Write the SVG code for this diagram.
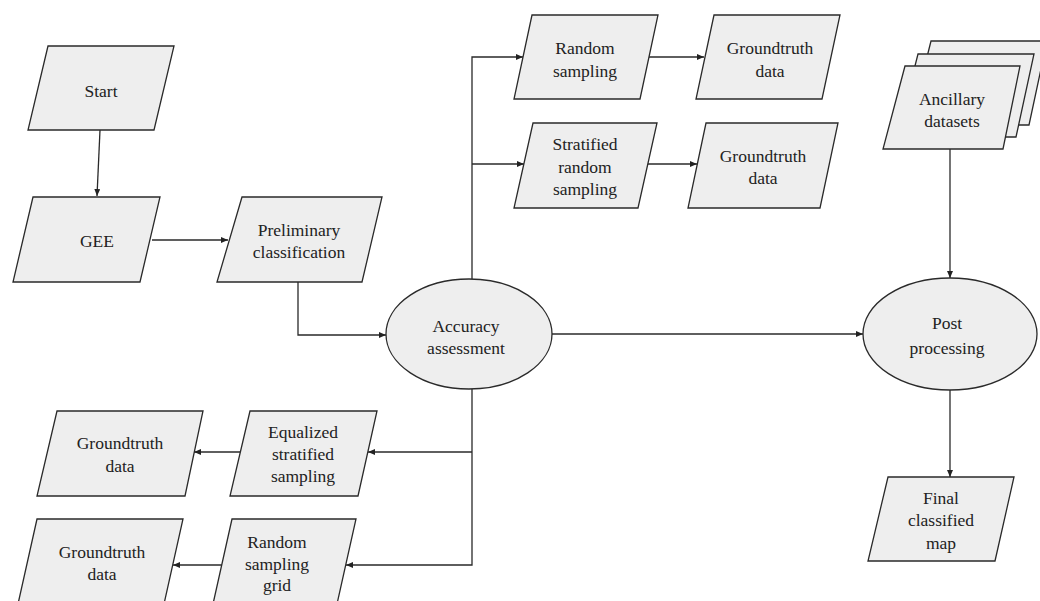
<svg xmlns="http://www.w3.org/2000/svg" width="1040" height="601" viewBox="0 0 1040 601">
<defs>
<style>
.n{fill:#eeeeee;stroke:#2a2a2a;stroke-width:1.3}
text{font-family:'Liberation Serif','Times New Roman','DejaVu Serif',serif;font-size:17.5px;fill:#222;text-anchor:middle}
.c{fill:none;stroke:#2a2a2a;stroke-width:1.3}
</style>
<marker id="ah" markerUnits="userSpaceOnUse" markerWidth="8" markerHeight="6" refX="7" refY="3" orient="auto">
<path d="M0,0 L7,3 L0,6 Z" fill="#222"/>
</marker>
</defs>
<rect width="1040" height="601" fill="#ffffff"/>

<g id="connectors">
<path class="c" d="M100,130 L97,196" marker-end="url(#ah)"/>
<path class="c" d="M152,240 L228,240" marker-end="url(#ah)"/>
<path class="c" d="M298,282 V335 H386" marker-end="url(#ah)"/>
<path class="c" d="M472,279 V57 H523" marker-end="url(#ah)"/>
<path class="c" d="M472,164 H524" marker-end="url(#ah)"/>
<path class="c" d="M649,57 H704" marker-end="url(#ah)"/>
<path class="c" d="M647,164 H697" marker-end="url(#ah)"/>
<path class="c" d="M552,334 H863" marker-end="url(#ah)"/>
<path class="c" d="M950,149 V278" marker-end="url(#ah)"/>
<path class="c" d="M950,390 V477" marker-end="url(#ah)"/>
<path class="c" d="M472,389 V565 H346" marker-end="url(#ah)"/>
<path class="c" d="M472,452 H368" marker-end="url(#ah)"/>
<path class="c" d="M240,452 H194" marker-end="url(#ah)"/>
<path class="c" d="M222,565 H173" marker-end="url(#ah)"/>
</g>

<g id="start" font-family="Liberation Serif, serif">
<polygon class="n" points="48,46 174,46 154,130 28,130"/>
<text x="101" y="97">Start</text>
</g>
<g id="gee">
<polygon class="n" points="33,197 160,197 140,282 13,282"/>
<text x="97" y="247">GEE</text>
</g>
<g id="preliminary">
<polygon class="n" points="242,197 382,197 362,282 217,282"/>
<text x="299" y="236">Preliminary</text>
<text x="299" y="258">classification</text>
</g>
<g id="random-sampling">
<polygon class="n" points="532,15 658,15 640,99 514,99"/>
<text x="585" y="54">Random</text>
<text x="585" y="77">sampling</text>
</g>
<g id="groundtruth-1">
<polygon class="n" points="714,15 840,15 822,99 696,99"/>
<text x="770" y="54">Groundtruth</text>
<text x="770" y="77">data</text>
</g>
<g id="stratified">
<polygon class="n" points="533,123 657,123 638,208 514,208"/>
<text x="585" y="150">Stratified</text>
<text x="585" y="173">random</text>
<text x="585" y="195">sampling</text>
</g>
<g id="groundtruth-2">
<polygon class="n" points="706,123 838,123 820,208 688,208"/>
<text x="763" y="162">Groundtruth</text>
<text x="763" y="184">data</text>
</g>
<g id="ancillary">
<polygon class="n" points="931,41 1047,41 1029,125 910,125"/>
<polygon class="n" points="918,54 1034,54 1016,137 897,137"/>
<polygon class="n" points="905,66 1020,66 1003,149 883,149"/>
<text x="952" y="105">Ancillary</text>
<text x="952" y="127">datasets</text>
</g>
<g id="accuracy">
<ellipse class="n" cx="469" cy="334" rx="83" ry="55"/>
<text x="466" y="332">Accuracy</text>
<text x="466" y="354">assessment</text>
</g>
<g id="post">
<ellipse class="n" cx="950" cy="334" rx="87" ry="56"/>
<text x="947" y="329">Post</text>
<text x="947" y="354">processing</text>
</g>
<g id="final">
<polygon class="n" points="888,477 1014,477 995,561 868,561"/>
<text x="941" y="504">Final</text>
<text x="941" y="526">classified</text>
<text x="941" y="549">map</text>
</g>
<g id="equalized">
<polygon class="n" points="250,411 377,411 358,496 230,496"/>
<text x="303" y="438">Equalized</text>
<text x="303" y="460">stratified</text>
<text x="303" y="482">sampling</text>
</g>
<g id="groundtruth-3">
<polygon class="n" points="57,411 203,411 185,496 37,496"/>
<text x="120" y="449">Groundtruth</text>
<text x="120" y="472">data</text>
</g>
<g id="random-grid">
<polygon class="n" points="232,519 356,519 337,604 213,604"/>
<text x="277" y="548">Random</text>
<text x="277" y="570">sampling</text>
<text x="277" y="591">grid</text>
</g>
<g id="groundtruth-4">
<polygon class="n" points="37,519 183,519 164,604 18,604"/>
<text x="102" y="558">Groundtruth</text>
<text x="102" y="580">data</text>
</g>
</svg>
